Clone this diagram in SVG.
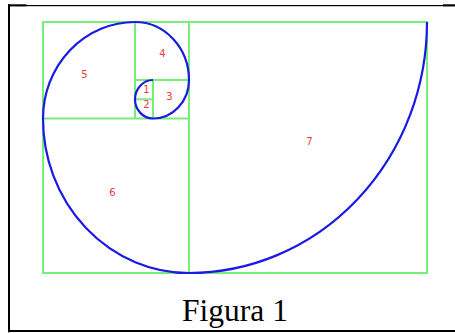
<svg xmlns="http://www.w3.org/2000/svg" width="455" height="333" viewBox="0 0 455 333">
<style>
.g{fill:none;stroke:#77ee77;stroke-width:2}
.s{fill:none;stroke:#1a1ae6;stroke-width:2.2}
.n{font-family:"DejaVu Sans",sans-serif;font-size:10px;fill:#f03a3a;text-anchor:middle}
.b{fill:#000}
</style>
<rect width="455" height="333" fill="#fff"/>
<g id="frame">
<rect class="b" x="8" y="5" width="447" height="1.2"/>
<rect class="b" x="8" y="4.3" width="18.5" height="2"/>
<rect class="b" x="443" y="4.3" width="12" height="2"/>
<rect class="b" x="8" y="4.3" width="2" height="328"/>
<rect class="b" x="8" y="330" width="447" height="2"/>
</g>
<g id="squares">
<rect id="sq-outer" class="g" x="43" y="22" width="384" height="251"/>
<line class="g" x1="189" y1="22" x2="189" y2="273"/>
<line class="g" x1="43" y1="118.5" x2="189" y2="118.5"/>
<line class="g" x1="135" y1="22" x2="135" y2="118.5"/>
<line class="g" x1="135" y1="80" x2="189" y2="80"/>
<line class="g" x1="153" y1="80" x2="153" y2="118.5"/>
<line class="g" x1="135" y1="99.3" x2="153" y2="99.3"/>
</g>
<g id="spiral">
<path class="s" d="M427,22 A238,251 0 0 1 189,273 A146,154.5 0 0 1 43,118.5 A92,96.5 0 0 1 135,22 A54,58 0 0 1 189,80 A36,38.5 0 0 1 153,118.5 A18,19.2 0 0 1 135,99.3 A18,19.3 0 0 1 153,80"/>
</g>
<g id="labels">
<text class="n" x="146.5" y="93">1</text>
<text class="n" x="146.5" y="108">2</text>
<text class="n" x="169.5" y="100">3</text>
<text class="n" x="162.5" y="57">4</text>
<text class="n" x="84.5" y="78">5</text>
<text class="n" x="112.5" y="196">6</text>
<text class="n" x="309.5" y="144.5">7</text>
</g>
<text id="caption" x="235" y="321" font-family="'Liberation Serif',serif" font-size="31.5" text-anchor="middle" fill="#000">Figura 1</text>
</svg>
